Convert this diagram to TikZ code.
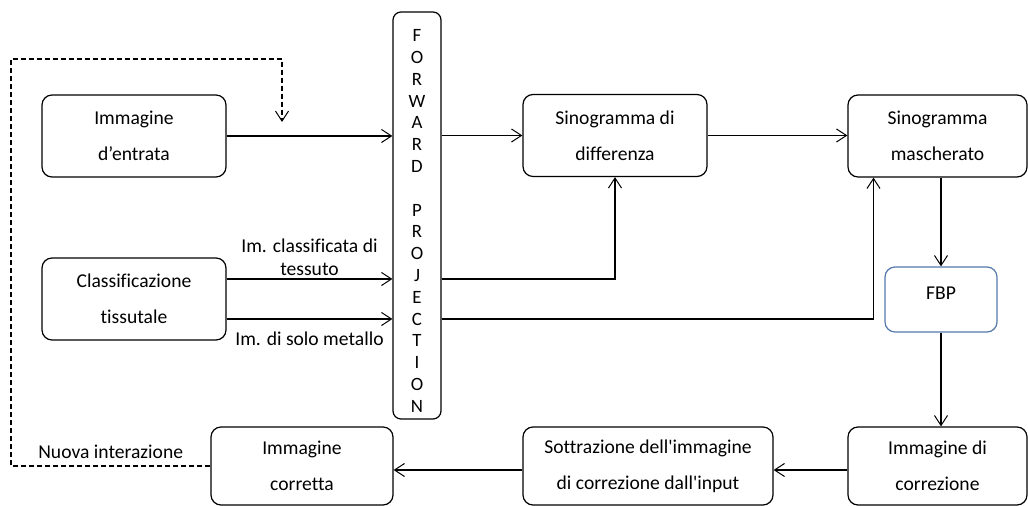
\documentclass[tikz,border=0pt]{standalone}
\usepackage{fontspec}
\setmainfont{Carlito}[Ligatures = {TeXOff, NoCommon}]
\usetikzlibrary{arrows.meta}
\definecolor{bordofbp}{RGB}{84,120,170}
\tikzset{
    blocco/.style = {draw, line width = 0.6pt, rounded corners = 5pt, align = center, minimum width = 92pt, minimum height = 41pt, font = \fontsize{9.8}{18}\selectfont},
    freccia/.style = {-{Straight Barb[length = 5pt, width = 6.5pt, line width = 0.5pt]}, line width = 0.55pt},
    etichetta/.style = {align = center, font = \fontsize{9.8}{11.5}\selectfont}
}
\begin{document}
\begin{tikzpicture}[x = 0.5pt, y = -0.5pt]
    \useasboundingbox (0, 0) rectangle (1028, 506);
    \node [blocco] (entrata) at (134, 136) {Immagine\\d’entrata};
    \node [blocco] (classif) at (134, 299) {Classificazione\\tissutale};
    \node [blocco, minimum width = 24pt, minimum height = 203.5pt, rounded corners = 4pt, inner sep = 0pt, font = \fontsize{9.4}{10.9}\selectfont] (forward) at (417, 215.5)
        {\rule{0pt}{11.5pt}F\\O\\R\\W\\A\\R\\D\\[10.9pt]P\\R\\O\\J\\E\\C\\T\\I\\O\\N};
    \node [blocco] (sinodiff) at (615, 135.5) {Sinogramma di\\differenza};
    \node [blocco, minimum width = 89.5pt] (sinomask) at (937.5, 136) {Sinogramma\\mascherato};
    \node [blocco, draw = bordofbp, minimum width = 56pt, minimum height = 32.5pt, text depth = 6.5pt] (fbp) at (941, 299.5) {FBP};
    \node [blocco, minimum width = 89.5pt, minimum height = 39pt] (imcorr) at (937.5, 466) {Immagine di\\correzione};
    \node [blocco, minimum width = 125pt, minimum height = 39pt] (sottr) at (648, 466) {Sottrazione dell'immagine\\di correzione dall'input};
    \node [blocco, minimum width = 91pt, minimum height = 39pt] (corretta) at (302, 466) {Immagine\\corretta};
    \coordinate (tessuto) at ([yshift = 10pt] classif.east);
    \coordinate (metallo) at ([yshift = -10pt] classif.east);
    \coordinate (giro) at (11, 59);
    \coordinate (ritorno) at (282, 122);
    \draw [freccia] (entrata.east) -- (entrata.east -| forward.west);
    \draw [freccia] (tessuto) -- node [etichetta, above, yshift = -2pt] {Im. classificata di\\tessuto} (tessuto -| forward.west);
    \draw [freccia] (metallo) -- node [etichetta, below, yshift = -3pt] {Im. di solo metallo} (metallo -| forward.west);
    \draw [freccia] (sinodiff.west -| forward.east) -- (sinodiff.west);
    \draw [freccia] (tessuto -| forward.east) -| (sinodiff.south);
    \draw [freccia] (metallo -| forward.east) -| ([xshift = -32pt] sinomask.south);
    \draw [freccia] (sinodiff.east) -- (sinodiff.east -| sinomask.west);
    \draw [freccia] (fbp.north |- sinomask.south) -- (fbp.north);
    \draw [freccia] (fbp.south) -- (fbp.south |- imcorr.north);
    \draw [freccia] ([yshift = -2pt] imcorr.west) -- ([yshift = -2pt] imcorr.west -| sottr.east);
    \draw [freccia] ([yshift = -2pt] sottr.west) -- ([yshift = -2pt] sottr.west -| corretta.east);
    \draw [freccia, dash pattern = on 2.5pt off 1.5pt] (corretta.west) -- node [etichetta, above] {Nuova interazione} (corretta.west -| giro) -- (giro) -| (ritorno);
\end{tikzpicture}
\end{document}
